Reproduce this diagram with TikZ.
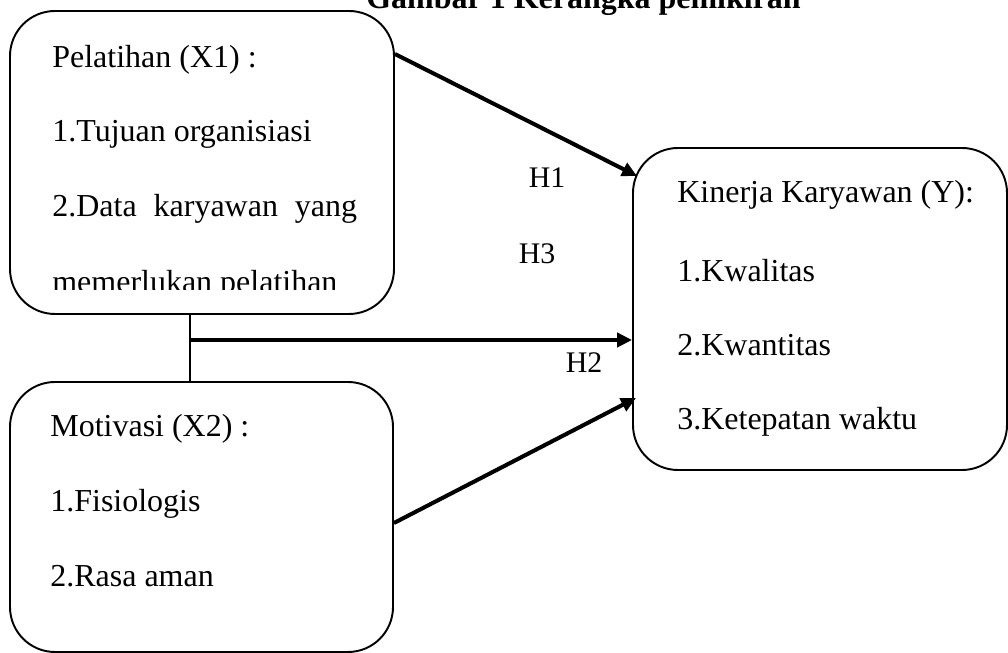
\documentclass[tikz,border=0pt]{standalone}
\usepackage{fontspec}
\setmainfont{Liberation Serif}
\usetikzlibrary{arrows.meta}

\begin{document}
\begin{tikzpicture}[
  box/.style={draw, line width=1.1pt, rounded corners=0.9cm},
  item/.style={anchor=base west, inner sep=0pt, font=\fontsize{18.2}{22}\selectfont},
  hyp/.style={anchor=base, inner sep=0pt, font=\fontsize{17}{20}\selectfont},
  arr/.style={line width=2.3pt, -{Triangle[length=8.5pt,width=8pt]}}
]
  \useasboundingbox (0,0) rectangle (20.16,13.06);

  % Title (cut by the page top)
  \node[anchor=base, inner sep=0pt, font=\fontsize{18.2}{22}\selectfont\bfseries] (title) at (11.67,12.88) {Gambar 1 Kerangka pemikiran};

  % Boxes
  \node[box, minimum width=7.68cm, minimum height=6.06cm] (x1) at (4.04,9.81) {};
  \node[box, minimum width=7.66cm, minimum height=5.4cm] (x2) at (4.03,2.72) {};
  \node[box, minimum width=7.48cm, minimum height=6.44cm] (y) at (16.4,6.88) {};

  % Pelatihan
  \node[item] (x1a) at (1.04,11.70) {Pelatihan (X1) :};
  \node[item] (x1b) at (1.04,10.22) {1.Tujuan organisiasi};
  \node[item] (x1c) at (1.04,8.72) {2.Data\hspace{0.53em}karyawan\hspace{0.53em}yang};
  \begin{scope}
    \clip (0.5,7.27) rectangle (8,8.2);
    \node[item] (x1d) at (1.04,7.21) {memerlukan pelatihan};
  \end{scope}

  % Motivasi
  \node[item] (x2a) at (1.0,4.32) {Motivasi (X2) :};
  \node[item] (x2b) at (1.0,2.82) {1.Fisiologis};
  \node[item] (x2c) at (1.0,1.32) {2.Rasa aman};

  % Kinerja
  \node[item] (ya) at (13.54,9.0) {Kinerja Karyawan (Y):};
  \node[item] (yb) at (13.54,7.42) {1.Kwalitas};
  \node[item] (yc) at (13.54,5.94) {2.Kwantitas};
  \node[item] (yd) at (13.54,4.46) {3.Ketepatan waktu};

  % Arrows
  \coordinate (jn) at (3.8,6.26);
  \draw[line width=1.1pt] (jn |- x1.south) -- (jn |- x2.north);
  \draw[arr] ([yshift=-0.88cm]x1.north east) -- ([shift={(0.1cm,-0.58cm)}]y.north west);
  \draw[arr] (jn) -- (jn -| y.west);
  \draw[arr] ([yshift=-0.12cm]x2.east) -- ([shift={(0.08cm,1.46cm)}]y.south west);

  % Labels
  \node[hyp] (h1) at (10.94,9.30) {H1};
  \node[hyp] (h3) at (10.74,7.78) {H3};
  \node[hyp] (h2) at (11.68,5.60) {H2};
\end{tikzpicture}
\end{document}
